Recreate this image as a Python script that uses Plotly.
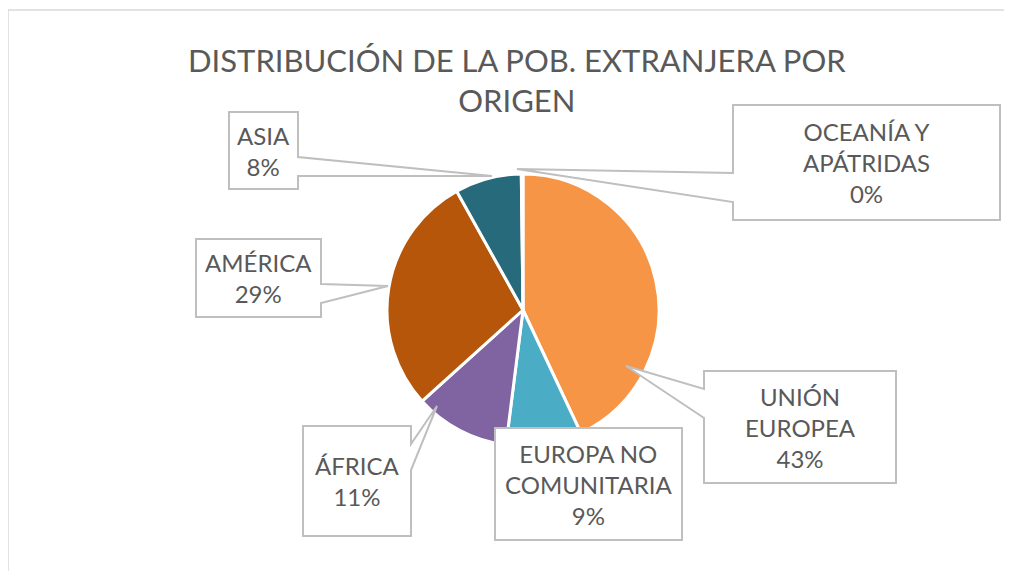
import plotly.graph_objects as go

# ---- data ----
categories = ["UNIÓN EUROPEA", "EUROPA NO COMUNITARIA", "ÁFRICA", "AMÉRICA", "ASIA", "OCEANÍA Y APÁTRIDAS"]
label_lines = ["UNIÓN<br>EUROPEA", "EUROPA NO<br>COMUNITARIA", "ÁFRICA", "AMÉRICA", "ASIA", "OCEANÍA Y<br>APÁTRIDAS"]
values = [43.0, 9.0, 11.3, 28.6, 7.9, 0.2]
colors = ["#F69546", "#4BACC6", "#8064A2", "#B5560A", "#276A7C", "#1F4E5E"]
title_text = "DISTRIBUCIÓN DE LA POB. EXTRANJERA POR<br>ORIGEN"

# page offset (body margin) compensation: screen pixel frame
OFF = 8
W, H = 1012 - 2 * OFF, 579 - 2 * OFF
total = sum(values)
pcts = [round(v / total * 100) for v in values]

# ---- layout (screen pixel) positions of the callout boxes ----
callouts = [
    dict(box=(704, 371, 896, 483), side="left", att=(389, 418), tip=(626, 366)),   # UE
    dict(box=(495, 428, 682, 540), side=None, att=None, tip=None),                 # ENC
    dict(box=(303, 426, 411, 536), side="right", att=(444, 470), tip=(437, 406)),  # Africa
    dict(box=(196, 239, 321, 317), side="right", att=(284, 303), tip=(388, 286)),  # America
    dict(box=(229, 112, 298, 189), side="right", att=(157, 176), tip=(492, 176)),  # Asia
    dict(box=(733, 105, 1000, 220), side="left", att=(173, 202), tip=(517, 169)),  # Oceania
]

cx, cy, r = 523, 310, 136
pcx, pcy = cx - OFF, cy - OFF  # in figure pixels

fig = go.Figure()
fig.add_trace(go.Pie(
    labels=categories, values=values, sort=False, direction="clockwise", rotation=0,
    marker=dict(colors=colors, line=dict(color="white", width=3)),
    textinfo="none", hoverinfo="label+percent", showlegend=False,
    domain=dict(x=[(pcx - r) / W, (pcx + r) / W], y=[(H - pcy - r) / H, (H - pcy + r) / H]),
))

shapes = []
# chart-area border (top and left edges visible in the crop)
shapes.append(dict(type="line", xref="x", yref="y", x0=8, y0=10, x1=1012, y1=10,
                   line=dict(color="#D9D9D9", width=1.5), layer="below"))
shapes.append(dict(type="line", xref="x", yref="y", x0=8, y0=10, x1=8, y1=579,
                   line=dict(color="#D9D9D9", width=1.5), layer="below"))

annotations = []
for c, txt, p in zip(callouts, label_lines, pcts):
    x0, y0, x1, y1 = c["box"]
    if c["side"] == "left":
        a, b = c["att"]
        tx, ty = c["tip"]
        path = f"M {x0},{y0} L {x1},{y0} L {x1},{y1} L {x0},{y1} L {x0},{b} L {tx},{ty} L {x0},{a} Z"
    elif c["side"] == "right":
        a, b = c["att"]
        tx, ty = c["tip"]
        path = f"M {x0},{y0} L {x1},{y0} L {x1},{a} L {tx},{ty} L {x1},{b} L {x1},{y1} L {x0},{y1} Z"
    else:
        path = f"M {x0},{y0} L {x1},{y0} L {x1},{y1} L {x0},{y1} Z"
    shapes.append(dict(type="path", xref="x", yref="y", path=path,
                       line=dict(color="#BFBFBF", width=2), fillcolor="white", layer="above"))
    annotations.append(dict(x=(x0 + x1) / 2, y=(y0 + y1) / 2, xref="x", yref="y",
                            text=f"{txt}<br>{p}%", showarrow=False,
                            font=dict(family="Lato, sans-serif", size=24, color="#595959"),
                            xanchor="center", yanchor="middle", align="center"))

annotations.append(dict(x=517, y=80, xref="x", yref="y", text=title_text, showarrow=False,
                        font=dict(family="Lato, sans-serif", size=31, color="#595959"),
                        xanchor="center", yanchor="middle", align="center"))

fig.update_layout(
    width=W, height=H, margin=dict(l=0, r=0, t=0, b=0),
    paper_bgcolor="white", plot_bgcolor="rgba(0,0,0,0)",
    xaxis=dict(range=[OFF, OFF + W], visible=False, fixedrange=True),
    yaxis=dict(range=[OFF + H, OFF], visible=False, fixedrange=True),
    shapes=shapes, annotations=annotations,
)

fig.write_html("out.html")
